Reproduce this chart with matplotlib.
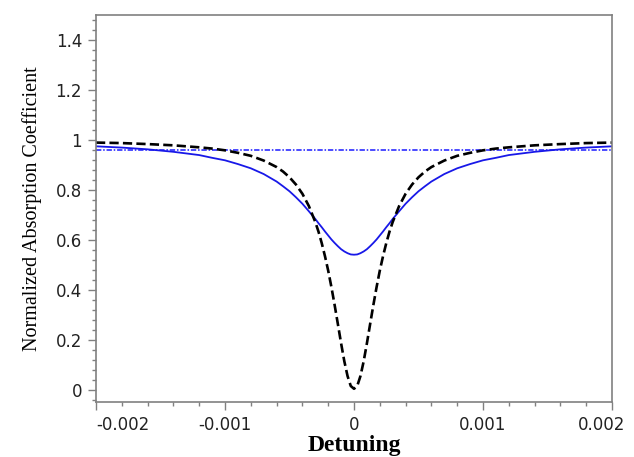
import matplotlib
matplotlib.use("Agg")
import matplotlib.pyplot as plt
import matplotlib.transforms as mtransforms
from matplotlib.ticker import MultipleLocator

# detuning values, one side; the curves are symmetric
half_detuning = [0.0, 0.000025, 0.00005, 0.000075, 0.0001, 0.000125, 0.00015, 0.000175,
                 0.0002, 0.000225, 0.00025, 0.000275, 0.0003, 0.00035, 0.0004, 0.00045,
                 0.0005, 0.00055, 0.0006, 0.0007, 0.0008, 0.0009, 0.001, 0.0011,
                 0.0012, 0.0014, 0.0016, 0.0018, 0.002]

# black dashed curve
half_black = [0.003, 0.014, 0.054, 0.113, 0.185, 0.262, 0.338, 0.410,
              0.476, 0.534, 0.586, 0.632, 0.671, 0.735, 0.784, 0.821,
              0.850, 0.873, 0.891, 0.917, 0.936, 0.948, 0.958, 0.965,
              0.970, 0.978, 0.983, 0.987, 0.989]

# blue solid curve
half_blue = [0.540, 0.541, 0.546, 0.553, 0.562, 0.574, 0.587, 0.601,
             0.617, 0.633, 0.650, 0.666, 0.683, 0.714, 0.744, 0.770,
             0.794, 0.814, 0.833, 0.863, 0.886, 0.903, 0.918, 0.928,
             0.939, 0.952, 0.962, 0.969, 0.974]

# blue dash-dot reference level
level_x = [-0.002, 0.002]
level_y = [0.96, 0.96]

xticks = [-0.002, -0.001, 0.0, 0.001, 0.002]
xtick_labels = ["-0.002", "-0.001", "0", "0.001", "0.002"]
yticks = [0, 0.2, 0.4, 0.6, 0.8, 1.0, 1.2, 1.4]
ytick_labels = ["0", "0.2", "0.4", "0.6", "0.8", "1", "1.2", "1.4"]

# mirror the half curves
detuning = [-v for v in half_detuning[:0:-1]] + half_detuning
absorb_black = half_black[:0:-1] + half_black
absorb_blue = half_blue[:0:-1] + half_blue

fig = plt.figure(figsize=(6.34, 4.57), dpi=100)
ax = fig.add_axes([96 / 634, 1 - 402 / 457, (612 - 96) / 634, (402 - 15) / 457])

ax.plot(level_x, level_y, color="#1a1aff", lw=1.1, linestyle=(0, (3.5, 1.2, 1, 1.2)))
ax.plot(detuning, absorb_blue, color="#1818e8", lw=1.3)
ax.plot(detuning, absorb_black, color="black", lw=1.9, linestyle=(0, (3.5, 1.6)))

ax.set_xlim(-0.002, 0.002)
ax.set_ylim(-0.05, 1.5)

ax.set_xticks(xticks)
ax.set_xticklabels(xtick_labels)
ax.set_yticks(yticks)
ax.set_yticklabels(ytick_labels)
ax.xaxis.set_minor_locator(MultipleLocator(0.0002))
ax.yaxis.set_minor_locator(MultipleLocator(0.04))

frame_col = "#808080"
for sp in ax.spines.values():
    sp.set_color(frame_col)
    sp.set_linewidth(1.2)
ax.tick_params(which="major", direction="out", length=6, width=1, color=frame_col,
               labelsize=12, labelcolor="#222222", pad=4)
ax.tick_params(which="minor", direction="out", length=3, width=1, color=frame_col)
ax.tick_params(top=False, right=False, which="both")

for lab in ax.get_xticklabels() + ax.get_yticklabels():
    lab.set_fontfamily("DejaVu Sans")

# edge labels sit inside the box like in the original
xl = ax.get_xticklabels()
xl[0].set_horizontalalignment("left")
xl[-1].set_transform(xl[-1].get_transform() +
                     mtransforms.ScaledTranslation(-10 / 100, 0, fig.dpi_scale_trans))

ax.set_xlabel("Detuning", fontfamily="Liberation Serif", fontweight="bold",
              fontsize=17, labelpad=1)
ax.set_ylabel("Normalized Absorption Coefficient", fontfamily="Liberation Serif",
              fontsize=14.5, labelpad=10)

fig.savefig("out.png", dpi=100, facecolor="white")
